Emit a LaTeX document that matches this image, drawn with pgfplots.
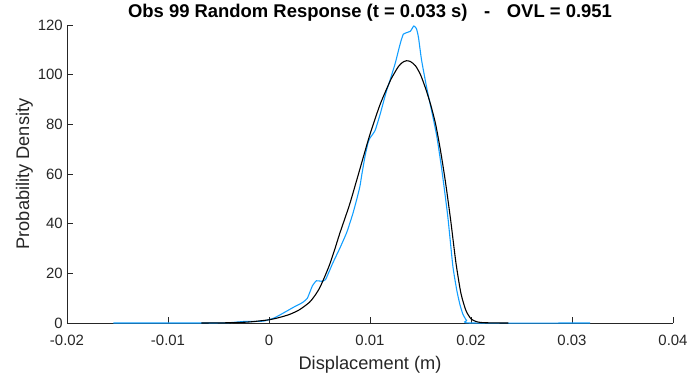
\documentclass[border=0pt]{standalone}
\usepackage{pgfplots}
\pgfplotsset{compat=1.18}
\usepackage{fontspec}
\setmainfont{Liberation Sans}
\definecolor{mblue}{RGB}{19,159,255}
\definecolor{axgray}{RGB}{38,38,38}
\begin{document}
\begin{tikzpicture}
\begin{axis}[
  scale only axis,
  width=606bp, height=298bp,
  xmin=-0.02, xmax=0.04, ymin=0, ymax=120,
  axis lines*=left,
  axis line style={-, axgray, line width=0.6bp},
  tick style={axgray, line width=0.6bp},
  tick align=inside,
  major tick length=6bp,
  xtick={-0.02,-0.01,0,0.01,0.02,0.03,0.04},
  xticklabels={-0.02,-0.01,0,0.01,0.02,0.03,0.04},
  scaled x ticks=false,
  ytick={0,20,40,60,80,100,120},
  yticklabels={0,20,40,60,80,100,120},
  xticklabel style={anchor=base, inner sep=0pt, yshift=-22.5bp, text=axgray, font=\fontsize{15}{18}\selectfont},
  yticklabel style={anchor=east, inner sep=0pt, xshift=-4bp, text=axgray, font=\fontsize{15}{18}\selectfont},
  xlabel={Displacement (m)},
  ylabel={Probability Density},
  xlabel style={at={(axis description cs:0.5,-0.1544)}, anchor=base, inner sep=0pt, text=axgray, font=\fontsize{18.3}{22}\selectfont},
  ylabel style={at={(axis description cs:-0.0561,0.5)}, anchor=south, rotate=0, inner sep=0pt, text=axgray, font=\fontsize{18.3}{22}\selectfont},
  title={Obs 99 Random Response (t = 0.033 s)\hspace{0.9em}-\hspace{0.9em}OVL = 0.951},
  title style={at={(axis description cs:0.5,1)}, anchor=base, inner sep=0pt, yshift=1.2bp, font=\fontsize{18.5}{22}\selectfont\bfseries},
  clip=false,
]
\addplot[mblue, line width=1.1bp, smooth, tension=0.3] coordinates {
(-0.0154,0) (-0.006,0) (-0.004,0.1) (-0.0025,0.6) (-0.0015,0.6) (-0.0005,0.8)
(0.0005,2) (0.0015,4.2) (0.0025,6.5) (0.0033,8.2) (0.0038,10) (0.0043,15)
(0.0047,17) (0.0052,16.8) (0.0056,17.5) (0.0063,24) (0.0070,30) (0.0077,36.5)
(0.0083,44) (0.0087,50) (0.0090,55) (0.0092,60) (0.0095,67) (0.0098,72.5)
(0.0100,74.5) (0.0105,77.5) (0.0110,84)
(0.0116,93) (0.0120,98) (0.0125,104.6) (0.0130,112.6) (0.0133,116.3) (0.0137,117)
(0.0140,117.5) (0.01434,119.6) (0.0146,118.5) (0.0148,115) (0.0151,106) (0.0156,95)
(0.0161,85.5) (0.0166,75.5) (0.0171,62) (0.0177,43) (0.0182,23) (0.0186,13)
(0.0189,7.5) (0.0192,3.5) (0.01956,1) (0.0199,0) (0.0318,0)
};
\addplot[black, line width=1.1bp, smooth, tension=0.4] coordinates {
(-0.0067,0) (-0.004,0.1) (-0.002,0.4) (0,1.3) (0.001,2.2) (0.002,3.4) (0.003,5.3) (0.004,8.3)
(0.0045,10.8) (0.005,14) (0.0055,18.5) (0.006,23.5) (0.0065,29.5)
(0.007,36) (0.008,48) (0.009,62) (0.010,76) (0.011,88) (0.012,97.5)
(0.0124,100.5) (0.0128,103.2) (0.0132,104.9) (0.0136,105.6) (0.0140,105.3) (0.0145,103.6)
(0.0150,100) (0.0155,94.5) (0.0160,88) (0.0165,80)
(0.0170,69) (0.0175,56) (0.0180,41) (0.0185,24.5) (0.0190,12) (0.0195,5)
(0.0200,1.7) (0.0205,0.6) (0.0210,0.2) (0.0220,0.05) (0.0237,0)
};
\end{axis}
\pgfresetboundingbox
\path[use as bounding box] (-67bp,-53bp) rectangle (622bp,323bp);
\end{tikzpicture}
\end{document}
